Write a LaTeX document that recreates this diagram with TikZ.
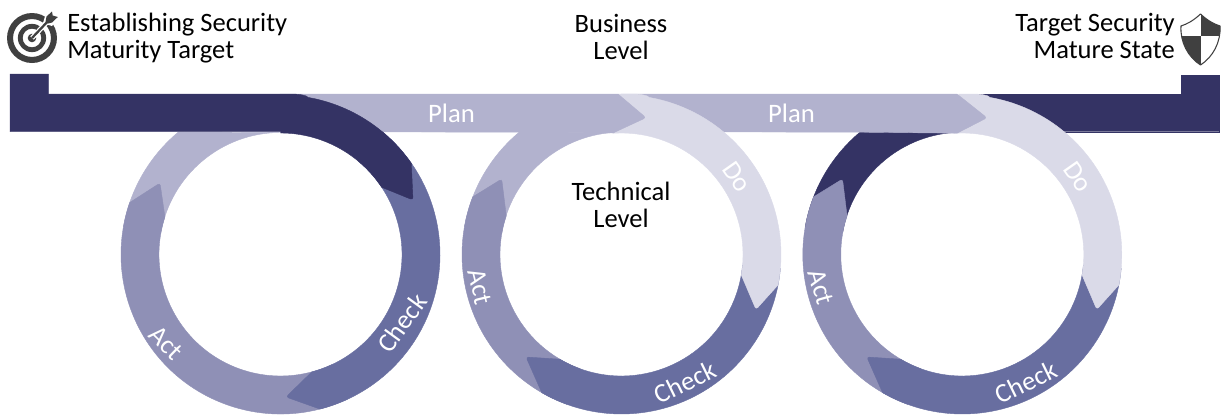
\documentclass[tikz,border=0pt]{standalone}
\usepackage{fontspec}
\setmainfont{Carlito}
\definecolor{navy}{HTML}{343364}
\definecolor{chk}{HTML}{686EA0}
\definecolor{actc}{HTML}{8F90B6}
\definecolor{planc}{HTML}{B2B2CE}
\definecolor{doc}{HTML}{DADAE8}
\definecolor{icon}{HTML}{404040}
\def\RO{119.625pt}
\def\RI{91.125pt}
\tikzset{
  seg/.style={draw=white,line width=.3pt},
  lab/.style={font=\fontsize{20}{22}\selectfont,text=white,inner sep=0pt},
  head/.style={font=\fontsize{19.9}{20.25}\selectfont,text=black,inner sep=0pt,align=center},
}
% ring: #1 colour of plan part
\newcommand\ringbody[1]{%
  \fill[seg,#1] (170:\RO) arc[start angle=170,end angle=129.8,radius=\RO] -- (-8.5,-122) arc[start angle=94,end angle=170,radius=\RI] -- cycle;
  \fill[seg,actc] (250:\RO) arc[start angle=250,end angle=158.8,radius=\RO] [rounded corners=2pt] -- (-119.8,-75.5) [sharp corners] -- (161.5:\RI) arc[start angle=161.5,end angle=250,radius=\RI] -- cycle;
  \fill[seg,chk] (-5:\RO) arc[start angle=-5,end angle=-120,radius=\RO] [rounded corners=2pt] -- (-95.5,102.5) [sharp corners] -- (-120.5:\RI) arc[start angle=-120.5,end angle=-5,radius=\RI] -- cycle;
  \fill[seg,doc] (-3.5,-160.5) -- (10,-160.5) .. controls (18,-160.5) and (26,-159.5) .. (80:\RO) arc[start angle=80,end angle=-11,radius=\RO] [rounded corners=2pt] -- (134.5,55) [sharp corners] -- (-9.7:\RI) arc[start angle=-9.7,end angle=94,radius=\RI] -- cycle;
}
\begin{document}
\begin{tikzpicture}[x=.75pt,y=-.75pt]
\useasboundingbox (0,0) rectangle (1225,415);
% right navy bar
\fill[seg,navy] (960,94) -- (1181,94) -- (1181,75) -- (1219,75) -- (1219,131.7) -- (960,131.7) -- cycle;
% ring 3
\begin{scope}[shift={(962.3,254.5)}]
\ringbody{navy}
\end{scope}
% plan 2
\fill[seg,planc] (621,94) -- (957,94) [rounded corners=2pt] -- (987,117.8) [sharp corners] -- (957,133.2) -- (860,132.2) -- (621,131.7) -- cycle;
% ring 2
\begin{scope}[shift={(621.5,254.5)}]
\ringbody{planc}
\end{scope}
% plan 1
\fill[seg,planc] (280,94) -- (618,94) [rounded corners=2pt] -- (646,117.7) [sharp corners] -- (613,133) -- (520,132.2) -- (280,131.7) -- cycle;
% ring 1
\begin{scope}[shift={(280.5,254.5)}]
\fill[seg,planc] (170:\RO) arc[start angle=170,end angle=129.8,radius=\RO] -- (0,-122) arc[start angle=90,end angle=170,radius=\RI] -- cycle;
\fill[seg,actc] (295:\RO) arc[start angle=295,end angle=161,radius=\RO] [rounded corners=2pt] -- (-120.5,-71.5) [sharp corners] -- (162:\RI) arc[start angle=162,end angle=295,radius=\RI] -- cycle;
\fill[seg,chk] (50:\RO) arc[start angle=50,end angle=-75.7,radius=\RO] [rounded corners=2pt] -- (5.5,142.5) [sharp corners] -- (-75.1:\RI) arc[start angle=-75.1,end angle=50,radius=\RI] -- cycle;
\fill[seg,navy] (-270.5,-180.5) -- (-232,-180.5) -- (-232,-160.5) -- (10,-160.5) .. controls (18,-160.5) and (26,-159.5) .. (80:\RO) arc[start angle=80,end angle=34.9,radius=\RO] [rounded corners=2pt] -- (132.5,-54.5) [sharp corners] -- (33.6:\RI) arc[start angle=33.6,end angle=90,radius=\RI] -- (0,-122.8) -- (-270.5,-122.8) -- cycle;
\end{scope}
% labels on the shapes
\node[lab] (plana) at (451.5,113) {Plan};
\node[lab] (planb) at (791.5,113) {Plan};
\node[lab,rotate=-44] (acta) at (165.7,343) {Act};
\node[lab,rotate=54] (checka) at (402,323) {Check};
\node[lab,rotate=-76] (actb) at (480,287) {Act};
\node[lab,rotate=26] (checkb) at (685,382) {Check};
\node[lab,rotate=-55] (dob) at (737,177) {Do};
\node[lab,rotate=-74] (actc) at (821,287) {Act};
\node[lab,rotate=26] (checkc) at (1026,382) {Check};
\node[lab,rotate=-55] (doc) at (1078,177) {Do};
% headings
\node[head,anchor=west,align=left] (estab) at (67,38.5) {Establishing Security\\Maturity Target};
\node[head] (biz) at (621,36.5) {Business\\Level};
\node[head] (tech) at (621,204.5) {Technical\\Level};
\node[head,anchor=east,align=right] (targ) at (1175,35.5) {Target Security\\Mature State};
% target icon
\fill[icon,even odd rule] (32,38) circle[radius=18.75pt] (32,38) circle[radius=14.2pt] (32,38) circle[radius=10.6pt] (32,38) circle[radius=7pt];
\fill[icon] (32,38) circle[radius=3.2pt];
\draw[white,line width=3.6pt] (32,38) -- (50,19);
\fill[white] (43,23) -- (46,13) -- (53,8) -- (60,16) -- (52,26) -- cycle;
\draw[icon,line width=1.7pt] (32,38) -- (50,19);
\fill[icon] (45.5,22) -- (46.5,16.5) -- (52,11.5) -- (52.7,15.5) -- (57.8,17) -- (52,22.5) -- (48,23.5) -- cycle;
% shield icon
\begin{scope}
\clip (1200.5,14) .. controls (1193,21) and (1187,24) .. (1181,26) .. controls (1180,42) and (1188,57) .. (1200.5,65) .. controls (1213,57) and (1221,42) .. (1220,26) .. controls (1214,24) and (1208,21) .. (1200.5,14) -- cycle;
\fill[icon] (1200.5,10) rectangle (1225,36);
\fill[icon] (1175,36) rectangle (1200.5,70);
\end{scope}
\draw[icon,line width=.8pt,line join=round] (1200.5,14) .. controls (1193,21) and (1187,24) .. (1181,26) .. controls (1180,42) and (1188,57) .. (1200.5,65) .. controls (1213,57) and (1221,42) .. (1220,26) .. controls (1214,24) and (1208,21) .. (1200.5,14) -- cycle;
\end{tikzpicture}
\end{document}
